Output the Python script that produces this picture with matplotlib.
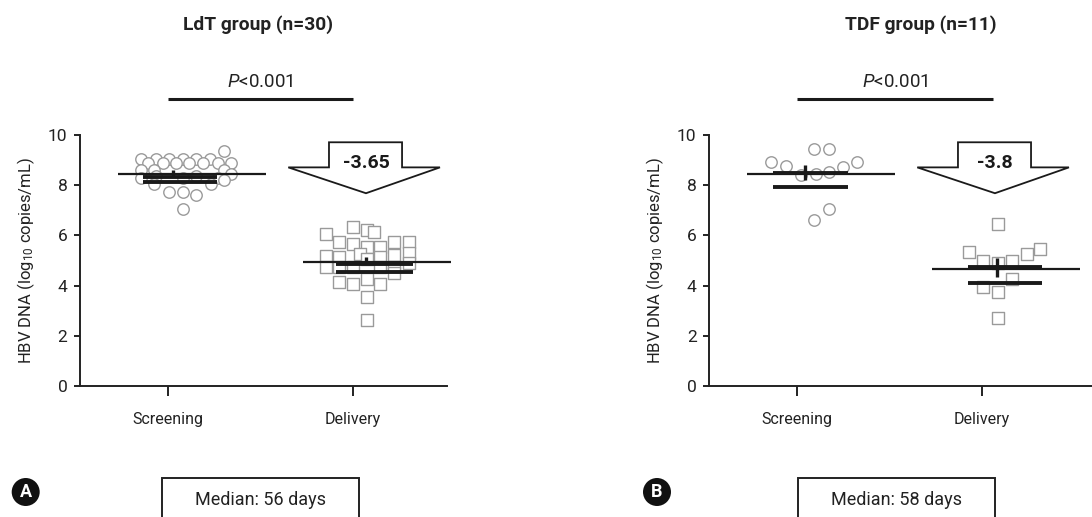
import matplotlib
matplotlib.use('Agg')
import matplotlib.pyplot as plt
from matplotlib.patches import Polygon, Ellipse, Rectangle

FONT = 'Roboto'
plt.rcParams['font.family'] = [FONT, 'DejaVu Sans']
plt.rcParams['mathtext.fontset'] = 'custom'
plt.rcParams['mathtext.rm'] = FONT
plt.rcParams['mathtext.it'] = FONT + ':italic'
plt.rcParams['mathtext.bf'] = FONT + ':bold'

# 数据: 每个点 (x 抖动, log10 HBV DNA)
categories = ['Screening', 'Delivery']
titles = ['LdT group (n=30)', 'TDF group (n=11)']
changes = ['-3.65', '-3.8']
medians_days = ['Median: 56 days', 'Median: 58 days']
panel_tags = ['A', 'B']

ldt_scr_x = [-0.196, -0.115, -0.043, 0.029, 0.101, 0.178, 0.254,
             -0.161, -0.079, -0.007, 0.065, 0.141, 0.218, 0.29,
             -0.196, -0.124, 0.254,
             -0.196, -0.115, 0.029, 0.101, 0.218, 0.29,
             -0.124, 0.182, -0.043, 0.029, 0.101, 0.029, 0.254]
ldt_scr_y = [9.05, 9.05, 9.05, 9.05, 9.05, 9.05, 9.37,
             8.87, 8.87, 8.87, 8.87, 8.87, 8.87, 8.87,
             8.6, 8.6, 8.6,
             8.3, 8.35, 8.3, 8.35, 8.3, 8.45,
             8.04, 8.04, 7.74, 7.74, 7.61, 7.05, 8.2]

ldt_del_x = [-0.146, 0.002, 0.076, 0.115, -0.074, 0.002, 0.076, 0.146, 0.223, 0.301,
             -0.146, -0.074, 0.038, 0.076, 0.146, 0.223, 0.301,
             -0.146, -0.074, 0.002, 0.146, 0.223, 0.301,
             -0.074, 0.002, 0.076, 0.146, 0.223, 0.076, 0.076]
ldt_del_y = [6.06, 6.32, 6.22, 6.12, 5.72, 5.66, 5.55, 5.55, 5.72, 5.72,
             5.19, 5.13, 5.26, 5.05, 5.13, 5.22, 5.29,
             4.73, 4.75, 4.75, 4.75, 4.73, 4.89,
             4.13, 4.06, 4.26, 4.06, 4.49, 3.56, 2.63]

tdf_scr_x = [-0.191, -0.11, -0.029, 0.052, 0.124, 0.196, 0.274, 0.043, 0.121, 0.043, 0.121]
tdf_scr_y = [8.94, 8.76, 8.41, 8.45, 8.54, 8.71, 8.91, 9.43, 9.43, 6.61, 7.04]

tdf_del_x = [0.085, -0.069, 0.007, 0.088, 0.16, 0.241, 0.314, 0.16, 0.007, 0.085, 0.085]
tdf_del_y = [6.44, 5.35, 4.99, 4.89, 4.99, 5.26, 5.45, 4.25, 3.96, 3.76, 2.70]

# 汇总线: [筛查, 分娩]
ldt_median = [8.45, 4.93]
ldt_mean = [8.31, 4.86]
ldt_low = [8.12, 4.53]
ldt_err = [(8.31, 8.6), (4.86, 5.15)]
tdf_median = [8.43, 4.66]
tdf_mean = [8.47, 4.73]
tdf_low = [7.92, 4.12]
tdf_err = [(8.2, 8.8), (4.35, 5.1)]

W, H = 1092, 517
fig = plt.figure(figsize=(W / 100, H / 100), dpi=100)

def px(x0, y0, x1, y1):
    return [x0 / W, 1 - y1 / H, (x1 - x0) / W, (y1 - y0) / H]

ax1 = fig.add_axes(px(80, 135, 447, 386))
ax2 = fig.add_axes(px(709, 135, 1120, 386))

panels = [
    (ax1, ldt_scr_x, ldt_scr_y, ldt_del_x, ldt_del_y, ldt_median, ldt_mean, ldt_low, ldt_err,
     (-0.476, 1.508), (0.0, 1.0), [0.025, 0.07], [(-0.135, 0.265), (-0.09, 0.323)]),
    (ax2, tdf_scr_x, tdf_scr_y, tdf_del_x, tdf_del_y, tdf_median, tdf_mean, tdf_low, tdf_err,
     (-0.476, 1.746), (0.0, 1.06), [0.043, 0.08], [(-0.128, 0.277), (-0.074, 0.322)]),
]
gray = '#9a9a9a'
dark = '#1a1a1a'

for i, (ax, sx, sy, dx, dy, med, mean, low, err, xl, br, ex, sp) in enumerate(panels):
    ax.scatter([0.05 + v for v in sx], sy, s=68, marker='o', facecolors='white',
               edgecolors=gray, linewidths=1.0, zorder=2, clip_on=False)
    ax.scatter([1 + v for v in dx], dy, s=80, marker='s', facecolors='white',
               edgecolors=gray, linewidths=1.0, zorder=2, clip_on=False)
    for k in range(2):
        ax.plot([k - 0.27, k + 0.53], [med[k], med[k]], color=dark, lw=1.6, zorder=3,
                clip_on=False, solid_capstyle='butt')
        ax.plot([k + sp[k][0], k + sp[k][1]], [mean[k], mean[k]], color=dark, lw=2.8,
                zorder=3, solid_capstyle='butt')
        ax.plot([k + sp[k][0], k + sp[k][1]], [low[k], low[k]], color=dark, lw=2.8,
                zorder=3, solid_capstyle='butt')
        ax.plot([k + ex[k], k + ex[k]], list(err[k]), color=dark, lw=2.4, zorder=4,
                solid_capstyle='butt')

    # 下降箭头
    c = 1.07
    arrow = [(c - 0.2, 9.71), (c + 0.195, 9.71), (c + 0.195, 8.71), (c + 0.4, 8.71),
             (c, 7.68), (c - 0.42, 8.71), (c - 0.2, 8.71)]
    ax.add_patch(Polygon(arrow, closed=True, facecolor='white', edgecolor=dark,
                         lw=1.3, zorder=5, clip_on=False))
    ax.text(c, 8.9, changes[i], ha='center', va='center', fontsize=14,
            fontweight='bold', color=dark, zorder=6)

    # P 值
    ax.plot([br[0], br[1]], [11.42, 11.42], color=dark, lw=2.2, clip_on=False,
            solid_capstyle='butt')
    ax.text((br[0] + br[1]) / 2, 12.1, r'$\mathit{P}$<0.001', ha='center', va='center',
            fontsize=13.5, color='#222222')

    ax.set_xlim(*xl)
    ax.set_ylim(0, 10)
    ax.set_xticks([0, 1])
    ax.set_xticklabels(categories)
    ax.set_yticks([0, 2, 4, 6, 8, 10])
    for s in ['top', 'right']:
        ax.spines[s].set_visible(False)
    for s in ['left', 'bottom']:
        ax.spines[s].set_linewidth(1.4)
        ax.spines[s].set_color('#222222')
        ax.spines[s].set_zorder(1)
    ax.tick_params(axis='y', length=4, width=1.4, pad=5, labelsize=12.5,
                   colors='#222222')
    ax.tick_params(axis='x', length=7, width=1.4, pad=12, labelsize=11.5,
                   colors='#222222')
    ax.set_ylabel(r'HBV DNA (log$_{10}$ copies/mL)', fontsize=12, color='#222222',
                  labelpad=8)
    ax.patch.set_alpha(0)

fig.text(258 / W, 1 - 25 / H, titles[0], ha='center', va='center', fontsize=13.8,
         fontweight='bold', color='#222222')
fig.text(921 / W, 1 - 25 / H, titles[1], ha='center', va='center', fontsize=13.8,
         fontweight='bold', color='#222222')

# 底部标注
for tag, tx, bx0, bx1, txt in [(panel_tags[0], 25.7, 162, 359, medians_days[0]),
                               (panel_tags[1], 657, 797.7, 995.3, medians_days[1])]:
    fig.patches.append(Rectangle((bx0 / W, 1 - 530 / H), (bx1 - bx0) / W, 52 / H,
                                 transform=fig.transFigure, facecolor='white',
                                 edgecolor='#222222', lw=1.4))
    fig.text((bx0 + bx1) / 2 / W, 1 - 500 / H, txt, ha='center', va='center',
             fontsize=13, color='#222222')
    fig.patches.append(Ellipse((tx / W, 1 - 492 / H), 28 / W, 28 / H,
                               transform=fig.transFigure,
                               facecolor='#111111', edgecolor='none'))
    fig.text(tx / W, 1 - 492 / H, tag, ha='center', va='center', fontsize=13,
             color='white', fontweight='bold')

fig.savefig('out.png', dpi=100)
